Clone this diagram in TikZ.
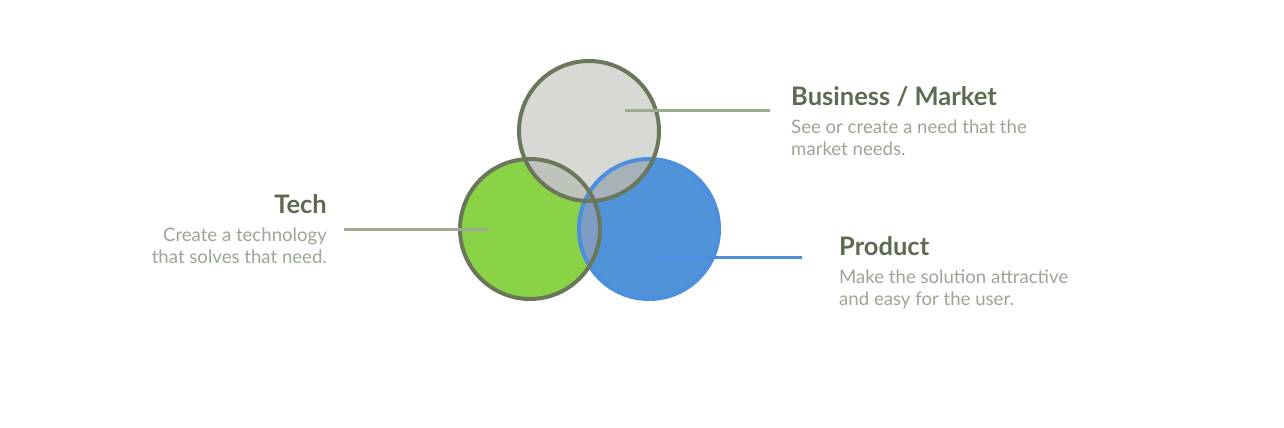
\documentclass[tikz,border=0pt]{standalone}
\usepackage{fontspec}
\setmainfont{Lato}
\begin{document}
\begin{tikzpicture}[x=1pt,y=-1pt,
  ring/.style={circle, minimum size=140pt, inner sep=0pt, line width=4pt},
  lead/.style={line width=3pt},
  title/.style={anchor=base west, inner sep=0pt, font=\fontsize{25.5}{25.5}\selectfont\bfseries, text=titlecol},
  desc/.style={anchor=base west, inner sep=0pt, font=\fontsize{18.6}{18.6}\selectfont, text=desccol}]
\definecolor{grayfill}{HTML}{D7D9D4}
\definecolor{ringcol}{HTML}{6A775A}
\definecolor{greenfill}{HTML}{8BD346}
\definecolor{bluefill}{HTML}{5193D8}
\definecolor{bluering}{HTML}{4B8FDE}
\definecolor{titlecol}{HTML}{5E6B50}
\definecolor{desccol}{HTML}{9BA694}
\definecolor{leadgray}{HTML}{9CAA91}
\definecolor{ovgg}{HTML}{BEC3BC}
\definecolor{ovgb}{HTML}{A7B1BA}
\definecolor{ovbl}{HTML}{7F9DC2}
\useasboundingbox[fill=white] (0,0) rectangle (1284,428);
% circles (fills)
\node[ring, fill=grayfill] (biz) at (589,131) {};
\node[ring, fill=greenfill] (tech) at (530,229) {};
\node[ring, fill=bluefill] (prod) at (649,229) {};
% overlaps
\begin{scope}
  \clip (589,131) circle (70);
  \fill[ovgg] (530,229) circle (70);
\end{scope}
\begin{scope}
  \clip (589,131) circle (70);
  \fill[ovgb] (649,229) circle (70);
\end{scope}
\begin{scope}
  \clip (530,229) circle (70);
  \fill[ovbl] (649,229) circle (70);
\end{scope}
% outlines
\draw[bluering, line width=4pt] (prod.center) circle (70);
\draw[ringcol, line width=4pt] (tech.center) circle (70);
\draw[ringcol, line width=4pt] (biz.center) circle (70);
% leader lines
\coordinate (bizin) at (625,110);
\coordinate (bizend) at (770,110);
\coordinate (techin) at (488,229);
\coordinate (techend) at (344,229);
\coordinate (prodin) at (655,257);
\coordinate (prodend) at (802,257);
\draw[lead, leadgray] (bizin) -- (bizend);
\draw[lead, leadgray] (techin) -- (techend);
\draw[lead, bluering] (prodin) -- (prodend);
% texts
\node[title] (biztitle) at (791,105) {Business / Market};
\node[desc] (bizd1) at (791,133) {See or create a need that the};
\node[desc] (bizd2) at (791,155) {market needs.};
\node[title, anchor=base east] (techtitle) at (327,213) {Tech};
\node[desc, anchor=base east] (techd1) at (327,241) {Create a technology};
\node[desc, anchor=base east] (techd2) at (327,263) {that solves that need.};
\node[title] (prodtitle) at (839,255) {Product};
\node[desc] (prodd1) at (839,283) {Make the solution attractive};
\node[desc] (prodd2) at (839,305) {and easy for the user.};
\end{tikzpicture}
\end{document}
